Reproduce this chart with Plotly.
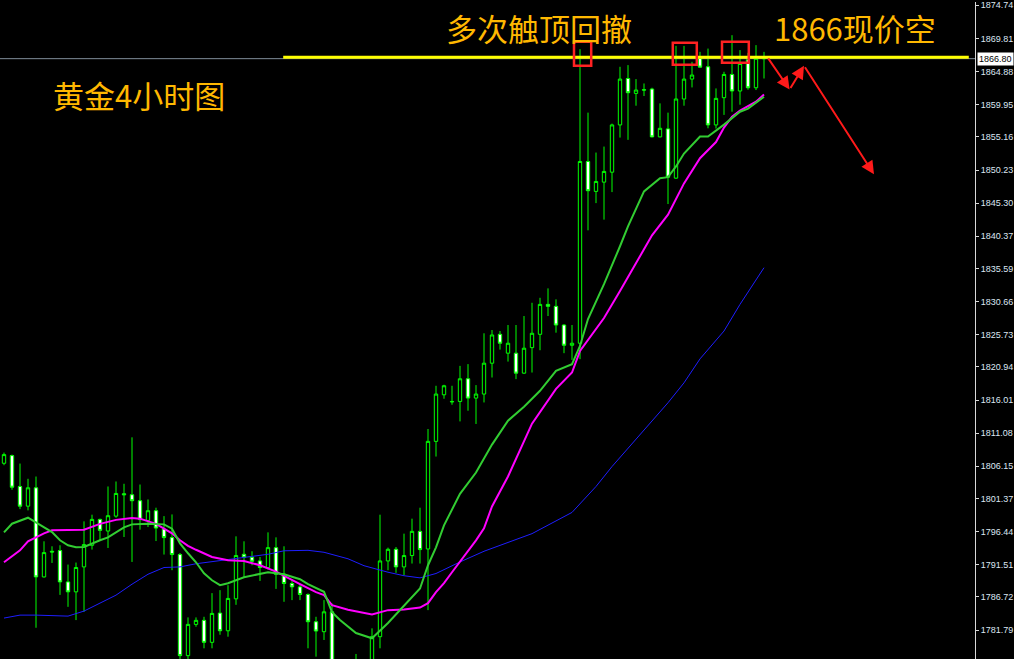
import plotly.graph_objects as go

# ---------------- data ----------------
idx = list(range(96))

open_ = [1806.60, 1807.74, 1803.15, 1800.22, 1802.95, 1789.69, 1793.51, 1793.61, 1788.95, 1787.47,
         1791.18, 1794.40, 1798.25, 1796.52, 1798.74, 1802.06, 1801.92, 1801.03, 1798.10, 1799.54,
         1796.81, 1795.54, 1793.02, 1777.98, 1782.63, 1783.23, 1779.96, 1784.31, 1781.68, 1786.43,
         1793.06, 1792.62, 1792.07, 1791.09, 1794.05, 1790.09, 1788.71, 1788.21, 1787.08, 1783.02,
         1781.54, 1784.50, 1776.2, 1774.3, 1775.6, 1776.4, 1776.1, 1780.80, 1792.07, 1793.80,
         1791.18, 1792.87, 1796.47, 1793.85, 1809.86, 1816.79, 1815.80, 1815.80, 1819.17, 1816.30,
         1816.90, 1821.49, 1825.79, 1822.98, 1822.98, 1820.01, 1823.81, 1825.79, 1830.24, 1829.95,
         1827.17, 1824.16, 1824.46, 1851.50, 1847.05, 1848.43, 1849.91, 1856.94, 1863.85, 1861.63,
         1862.18, 1862.28, 1855.16, 1856.35, 1849.02, 1860.80, 1863.76, 1866.82, 1865.59, 1856.94,
         1860.99, 1864.45, 1861.99, 1866.63, 1862.47, 1866.85]

high_ = [1808.19, 1807.89, 1806.56, 1804.29, 1804.63, 1794.99, 1794.25, 1794.40, 1791.53, 1791.83,
         1797.96, 1798.95, 1798.36, 1803.15, 1803.89, 1803.55, 1810.46, 1803.44, 1801.22, 1799.99,
         1798.74, 1798.99, 1793.25, 1783.67, 1783.67, 1783.76, 1787.28, 1787.72, 1788.46, 1795.73,
         1794.99, 1793.51, 1792.66, 1796.32, 1795.58, 1794.25, 1789.35, 1788.57, 1787.23, 1783.76,
         1786.24, 1785.75, 1777.0, 1776.9, 1778.23, 1777.2, 1782.04, 1798.95, 1794.05, 1794.14,
         1796.13, 1798.36, 1799.99, 1811.70, 1818.13, 1818.28, 1818.13, 1821.09, 1821.35, 1818.23,
         1825.94, 1826.43, 1826.28, 1827.17, 1827.17, 1828.51, 1830.48, 1831.22, 1832.62, 1830.99,
         1827.28, 1827.17, 1868.21, 1858.77, 1852.83, 1853.72, 1857.13, 1865.59, 1865.84, 1863.76,
         1863.11, 1862.47, 1860.15, 1858.77, 1868.70, 1868.70, 1866.33, 1867.81, 1868.30, 1862.37,
         1864.85, 1870.29, 1868.07, 1867.67, 1868.81, 1867.81]

low_ = [1806.31, 1802.66, 1799.78, 1799.59, 1782.13, 1789.60, 1791.77, 1787.02, 1785.24, 1783.27,
        1784.50, 1793.76, 1795.14, 1794.00, 1798.50, 1795.63, 1791.92, 1796.72, 1797.11, 1795.03,
        1793.02, 1790.69, 1776.8, 1777.3, 1782.28, 1779.07, 1779.07, 1781.09, 1780.80, 1785.54,
        1789.69, 1791.43, 1789.10, 1790.79, 1787.91, 1785.99, 1786.24, 1786.24, 1779.07, 1777.83,
        1780.31, 1775.0, 1772.5, 1771.8, 1773.4, 1773.9, 1775.2, 1779.07, 1790.69, 1790.29,
        1789.95, 1791.68, 1791.68, 1784.75, 1807.60, 1816.20, 1815.31, 1812.83, 1814.42, 1812.45,
        1815.65, 1819.36, 1823.51, 1821.73, 1819.12, 1819.90, 1820.10, 1823.42, 1828.51, 1826.03,
        1822.98, 1821.98, 1822.09, 1841.26, 1845.31, 1842.85, 1846.95, 1855.06, 1854.72, 1859.80,
        1861.24, 1855.10, 1855.10, 1845.17, 1848.95, 1859.80, 1862.52, 1865.44, 1856.44, 1856.40,
        1858.43, 1858.91, 1859.95, 1862.18, 1862.13, 1863.85]

close_ = [1807.89, 1803.04, 1800.22, 1802.95, 1789.69, 1793.31, 1793.40, 1788.95, 1787.47, 1791.09,
          1794.50, 1798.25, 1796.62, 1798.80, 1802.11, 1801.92, 1801.03, 1798.21, 1799.54, 1796.96,
          1795.54, 1793.02, 1777.98, 1782.63, 1783.23, 1779.96, 1784.26, 1781.68, 1786.49, 1792.87,
          1792.62, 1792.02, 1791.09, 1794.05, 1790.09, 1788.71, 1788.21, 1787.08, 1783.02, 1781.64,
          1784.50, 1776.2, 1774.3, 1775.6, 1776.4, 1776.1, 1780.80, 1792.07, 1793.80, 1791.18,
          1792.87, 1796.47, 1793.76, 1809.86, 1816.90, 1818.13, 1815.75, 1819.17, 1816.30, 1816.90,
          1821.49, 1825.69, 1824.46, 1824.46, 1820.01, 1823.72, 1825.94, 1830.24, 1829.95, 1827.17,
          1824.16, 1824.46, 1851.50, 1847.15, 1848.53, 1850.02, 1856.94, 1863.76, 1861.73, 1862.13,
          1862.13, 1855.16, 1856.44, 1849.17, 1860.80, 1863.76, 1864.36, 1865.54, 1856.94, 1860.89,
          1864.45, 1861.99, 1866.08, 1862.47, 1866.85, 1866.80]

# fast moving average (green)
ma_fast_k = [0, 1, 3, 4, 5, 6, 7, 8, 9, 10, 12, 13, 15, 16, 18, 20, 21, 22, 23, 24, 25, 26, 27, 28,
             30, 33, 35, 37, 38, 40, 41, 42, 44, 46, 48, 50, 52, 53, 54, 55, 57, 59, 61, 63, 65, 67,
             69, 71, 72, 73, 75, 77, 78, 80, 82, 83, 84, 85, 87, 88, 90, 92, 93, 95]
ma_fast_v = [1796.32, 1797.61, 1798.50, 1797.81, 1797.07, 1796.37, 1795.14, 1794.40, 1794.10, 1794.14,
             1795.14, 1795.58, 1797.07, 1797.51, 1797.61, 1797.51, 1796.87, 1794.69, 1793.21, 1791.87,
             1790.24, 1789.20, 1788.46, 1788.76, 1789.65, 1790.39, 1790.09, 1789.35, 1788.61, 1787.47,
             1784.46, 1783.27, 1781.34, 1780.56, 1782.83, 1785.35, 1787.97, 1791.43, 1794.10, 1797.36,
             1802.06, 1805.22, 1809.38, 1812.94, 1815.01, 1817.39, 1820.35, 1821.35, 1824.06, 1828.06,
             1833.25, 1838.89, 1841.86, 1847.05, 1849.02, 1849.17, 1850.76, 1852.69, 1855.21, 1855.21,
             1856.99, 1858.91, 1859.36, 1861.14]

# middle moving average (magenta)
ma_mid_k = [0, 2, 3, 5, 6, 8, 10, 12, 14, 16, 17, 19, 21, 22, 23, 24, 26, 28, 30, 32, 34, 37, 39, 40,
            41, 43, 46, 48, 50, 52, 53, 54, 55, 56, 57, 59, 60, 61, 63, 66, 69, 71, 72, 75, 77, 79,
            81, 83, 85, 87, 89, 90, 91, 92, 94, 95]
ma_mid_v = [1791.87, 1793.65, 1794.99, 1796.18, 1796.62, 1796.72, 1796.72, 1797.58, 1798.18, 1798.45,
            1798.36, 1797.58, 1796.18, 1795.14, 1794.32, 1793.73, 1792.66, 1792.17, 1792.07, 1791.43,
            1790.47, 1788.61, 1787.42, 1786.98, 1785.50, 1784.80, 1784.12, 1784.75, 1784.86, 1785.13,
            1785.79, 1787.42, 1788.76, 1790.39, 1791.92, 1795.14, 1796.92, 1800.18, 1804.63, 1812.49,
            1817.68, 1820.10, 1823.32, 1828.21, 1832.22, 1836.37, 1840.52, 1843.59, 1848.24, 1851.99,
            1854.39, 1856.54, 1858.17, 1859.06, 1860.40, 1861.48]

# slow moving average (blue)
ma_slow_k = [0, 2, 4, 8, 10, 12, 14, 16, 18, 20, 22, 24, 28, 31, 33, 35, 38, 40, 43, 45, 48, 50, 52,
             54, 57, 60, 63, 66, 71, 74, 76, 78, 80, 83, 85, 87, 90, 92, 95]
ma_slow_v = [1783.57, 1784.01, 1784.01, 1783.86, 1784.61, 1785.75, 1786.98, 1788.61, 1790.09, 1791.09,
             1791.18, 1791.65, 1792.27, 1792.66, 1793.06, 1793.58, 1793.65, 1793.36, 1792.39, 1791.36,
             1790.39, 1789.87, 1789.55, 1790.20, 1791.92, 1793.51, 1794.77, 1796.13, 1799.29, 1803.15,
             1806.11, 1808.86, 1811.45, 1815.61, 1818.57, 1822.13, 1826.28, 1830.24, 1835.70]

tick_vals = [1874.74, 1869.81, 1864.88, 1859.95, 1855.16, 1850.23, 1845.30, 1840.37, 1835.59, 1830.66,
             1825.73, 1820.94, 1816.01, 1811.08, 1806.15, 1801.37, 1796.44, 1791.51, 1786.72, 1781.79]
tick_text = ["%.2f" % v for v in tick_vals]

current_price = 1866.80
resistance = 1867.0

title_texts = ["多次触顶回撤", "1866现价空", "黄金4小时图"]

# touch boxes: (k_left, k_right, price_low, price_high)
touch_boxes = [(71.25, 73.4, 1865.74, 1869.30),
               (83.6, 86.6, 1865.89, 1869.15),
               (89.75, 93.1, 1866.18, 1869.30)]

# forecast path (k, price)
path_k = [95.4, 98.2, 100.0, 108.75]
path_p = [1867.07, 1862.2, 1865.74, 1849.6]

# ---------------- figure ----------------
fig = go.Figure()

fig.add_trace(go.Candlestick(
    x=idx, open=open_, high=high_, low=low_, close=close_,
    increasing=dict(line=dict(color="#00FF00", width=1), fillcolor="#000000"),
    decreasing=dict(line=dict(color="#00FF00", width=1), fillcolor="#FFFFFF"),
    whiskerwidth=0, hoverinfo="skip", showlegend=False,
))

fig.add_trace(go.Scatter(x=ma_slow_k, y=ma_slow_v, mode="lines",
                         line=dict(color="#1E1EFF", width=1), showlegend=False, hoverinfo="skip"))
fig.add_trace(go.Scatter(x=ma_mid_k, y=ma_mid_v, mode="lines",
                         line=dict(color="#FF00FF", width=2), showlegend=False, hoverinfo="skip"))
fig.add_trace(go.Scatter(x=ma_fast_k, y=ma_fast_v, mode="lines",
                         line=dict(color="#32CD32", width=2), showlegend=False, hoverinfo="skip"))

shapes = []
shapes.append(dict(type="line", xref="paper", x0=0, x1=1, yref="y", y0=current_price, y1=current_price,
                   line=dict(color="#7F8C9A", width=1), layer="below"))
shapes.append(dict(type="line", xref="x", x0=34.9, x1=120.6, yref="y", y0=resistance, y1=resistance,
                   line=dict(color="#FFFF00", width=3)))
for (k0, k1, p0, p1) in touch_boxes:
    shapes.append(dict(type="rect", xref="x", yref="y", x0=k0, x1=k1, y0=p0, y1=p1,
                       line=dict(color="#FF2222", width=2.5)))

annotations = []
gold = "#FFB800"
title_pos = [(0.553, 0.961), (0.877, 0.961), (0.1426, 0.859)]
for t, (px, py) in zip(title_texts, title_pos):
    annotations.append(dict(text=t, xref="paper", yref="paper", x=px, y=py,
                            xanchor="center", yanchor="middle", showarrow=False,
                            font=dict(family="Noto Sans CJK SC", size=31, color=gold)))

annotations.append(dict(text="1866.80", xref="paper", yref="y", x=1.002, y=current_price,
                        xanchor="left", yanchor="middle", showarrow=False, bgcolor="#FFFFFF",
                        borderpad=1, font=dict(family="Liberation Sans", size=9, color="#000000")))

for i in range(len(path_k) - 1):
    annotations.append(dict(text="", xref="x", yref="y", axref="x", ayref="y",
                            x=path_k[i + 1], y=path_p[i + 1], ax=path_k[i], ay=path_p[i],
                            showarrow=True, arrowhead=2, arrowsize=1.3, arrowwidth=2,
                            arrowcolor="#FF1A1A"))

fig.update_layout(
    width=1014, height=659,
    margin=dict(l=0, r=39, t=0, b=0),
    paper_bgcolor="#000000", plot_bgcolor="#000000",
    shapes=shapes, annotations=annotations,
    boxgap=0.4,
    xaxis=dict(range=[-0.5, 121.375], showgrid=False, zeroline=False, showticklabels=False,
               showline=False, rangeslider=dict(visible=False), fixedrange=True),
    yaxis=dict(range=[1777.48, 1875.23], side="right", showgrid=False, zeroline=False,
               showline=True, linecolor="#D8D8D8", linewidth=1,
               ticks="outside", ticklen=3, tickcolor="#D8D8D8",
               tickvals=tick_vals, ticktext=tick_text, ticklabeloverflow="allow",
               tickfont=dict(family="Liberation Sans", size=9, color="#DCE6F2")),
)

fig.write_html("out.html", config={"displayModeBar": False},
               post_script="document.body.style.margin='0px';document.body.style.overflow='hidden';")
